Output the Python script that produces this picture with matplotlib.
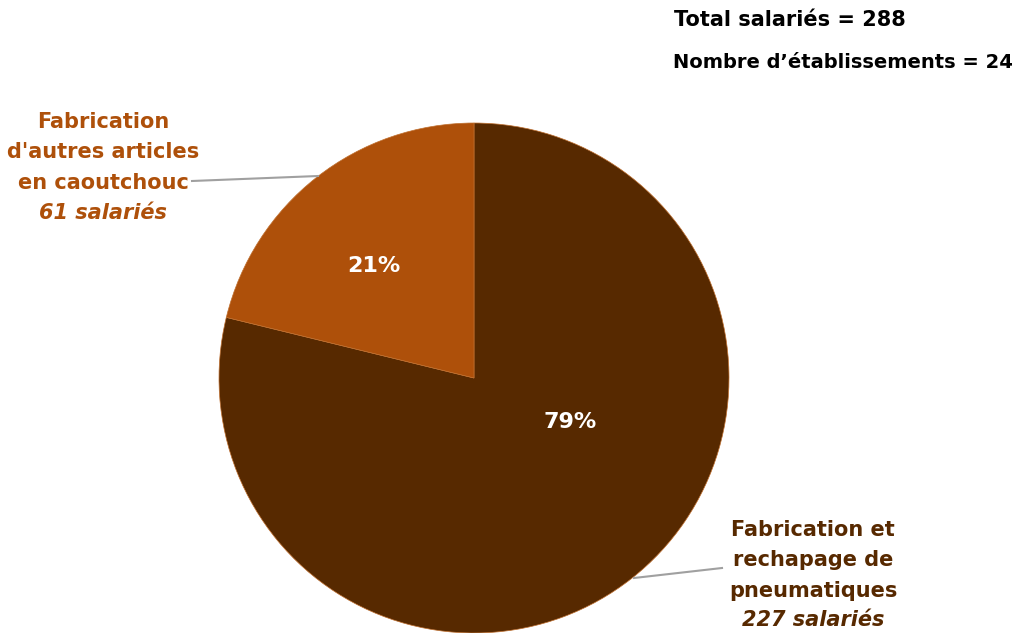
import matplotlib.pyplot as plt

secteurs = [["Fabrication et", "rechapage de", "pneumatiques"],
            ["Fabrication", "d'autres articles", "en caoutchouc"]]
salaries = [227, 61]
couleurs = ["#572900", "#AE500A"]
total_salaries = 288
nb_etablissements = 24

plt.rcParams["font.family"] = ["DejaVu Sans"]

fig = plt.figure(figsize=(10.21, 6.33), dpi=100)
ax = fig.add_axes([0, 0, 1, 1])

cx, cy, r = 474, 255, 255
ax.pie(salaries, colors=couleurs, startangle=90, counterclock=False,
       center=(cx, cy), radius=r, frame=True,
       wedgeprops=dict(linewidth=0.5, edgecolor="#C07030"))
ax.set_xlim(0, 1021)
ax.set_ylim(0, 633)
ax.set_aspect("equal")
ax.axis("off")

pcts = [round(v / sum(salaries) * 100) for v in salaries]
ax.text(570, 633 - 422, f"{pcts[0]}%", color="white", fontsize=16, fontweight="bold",
        ha="center", va="center")
ax.text(374, 633 - 266, f"{pcts[1]}%", color="white", fontsize=16, fontweight="bold",
        ha="center", va="center")

# leader lines
ax.plot([192, 318], [633 - 181, 633 - 176], color="#A0A0A0", lw=1.5)
ax.plot([634, 722], [633 - 578, 633 - 568], color="#A0A0A0", lw=1.5)

# labels
for i, line in enumerate(secteurs[1]):
    ax.text(103, 633 - (122 + 30.5 * i), line, color=couleurs[1], fontsize=15,
            fontweight="bold", ha="center", va="center")
ax.text(103, 633 - 213, f"{salaries[1]} salariés", color=couleurs[1], fontsize=15,
        fontweight="bold", style="italic", ha="center", va="center")
for i, line in enumerate(secteurs[0]):
    ax.text(813, 633 - (530 + 30.5 * i), line, color=couleurs[0], fontsize=15,
            fontweight="bold", ha="center", va="center")
ax.text(813, 633 - 620, f"{salaries[0]} salariés", color=couleurs[0], fontsize=15,
        fontweight="bold", style="italic", ha="center", va="center")

ax.text(790, 633 - 20, f"Total salariés = {total_salaries}", color="black",
        fontsize=15, fontweight="bold", ha="center", va="center")
ax.text(843, 633 - 62, f"Nombre d’établissements = {nb_etablissements}", color="black",
        fontsize=14, fontweight="bold", ha="center", va="center")

fig.savefig("out.png", dpi=100)
